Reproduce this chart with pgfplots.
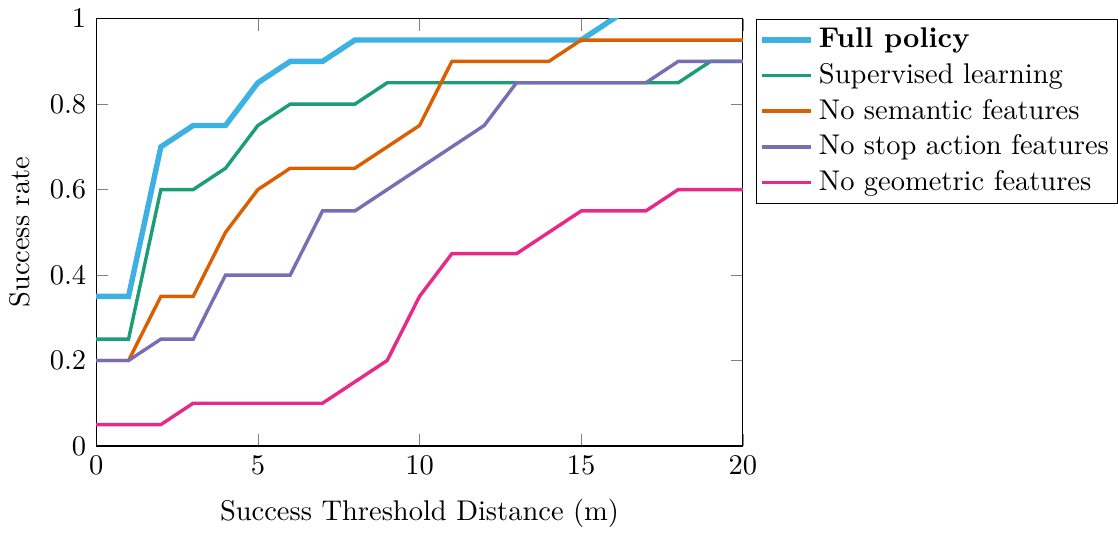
\documentclass[border=0pt]{standalone}
\usepackage{pgfplots}
\pgfplotsset{compat=1.18}
\definecolor{fullblue}{HTML}{3DB1E2}
\definecolor{supgreen}{HTML}{1B9E77}
\definecolor{semorange}{HTML}{D95F02}
\definecolor{stoppurple}{HTML}{7570B3}
\definecolor{geopink}{HTML}{E7298A}
\begin{document}
\begin{tikzpicture}
\begin{axis}[
    scale only axis,
    width=227pt,
    height=150pt,
    xmin=0, xmax=20,
    ymin=0, ymax=1,
    xtick={0,5,10,15,20},
    ytick={0,0.2,0.4,0.6,0.8,1},
    xlabel={Success Threshold Distance (m)},
    xlabel style={yshift=-2pt},
    ylabel={Success rate},
    legend style={at={(1.02,1)}, anchor=north west, inner sep=1pt},
    legend cell align={left},
]
\addplot[fullblue, line width=1.9pt] coordinates {
(0,0.35) (1,0.35) (2,0.70) (3,0.75) (4,0.75) (5,0.85) (6,0.90) (7,0.90) (8,0.95)
(9,0.95) (10,0.95) (11,0.95) (12,0.95) (13,0.95) (14,0.95) (15,0.95) (16,1.00) (17,1.05)};
\addplot[supgreen, line width=1.2pt] coordinates {
(0,0.25) (1,0.25) (2,0.60) (3,0.60) (4,0.65) (5,0.75) (6,0.80) (7,0.80) (8,0.80)
(9,0.85) (10,0.85) (11,0.85) (12,0.85) (13,0.85) (14,0.85) (15,0.85) (16,0.85)
(17,0.85) (18,0.85) (19,0.90) (20,0.90)};
\addplot[semorange, line width=1.2pt] coordinates {
(0,0.20) (1,0.20) (2,0.35) (3,0.35) (4,0.50) (5,0.60) (6,0.65) (7,0.65) (8,0.65)
(9,0.70) (10,0.75) (11,0.90) (12,0.90) (13,0.90) (14,0.90) (15,0.95) (16,0.95)
(17,0.95) (18,0.95) (19,0.95) (20,0.95)};
\addplot[stoppurple, line width=1.2pt] coordinates {
(0,0.20) (1,0.20) (2,0.25) (3,0.25) (4,0.40) (5,0.40) (6,0.40) (7,0.55) (8,0.55)
(9,0.60) (10,0.65) (11,0.70) (12,0.75) (13,0.85) (14,0.85) (15,0.85) (16,0.85)
(17,0.85) (18,0.90) (19,0.90) (20,0.90)};
\addplot[geopink, line width=1.2pt] coordinates {
(0,0.05) (1,0.05) (2,0.05) (3,0.10) (4,0.10) (5,0.10) (6,0.10) (7,0.10) (8,0.15)
(9,0.20) (10,0.35) (11,0.45) (12,0.45) (13,0.45) (14,0.50) (15,0.55) (16,0.55)
(17,0.55) (18,0.60) (19,0.60) (20,0.60)};
\legend{\textbf{Full policy}, Supervised learning, No semantic features, No stop action features, No geometric features}
\end{axis}
\end{tikzpicture}
\end{document}
